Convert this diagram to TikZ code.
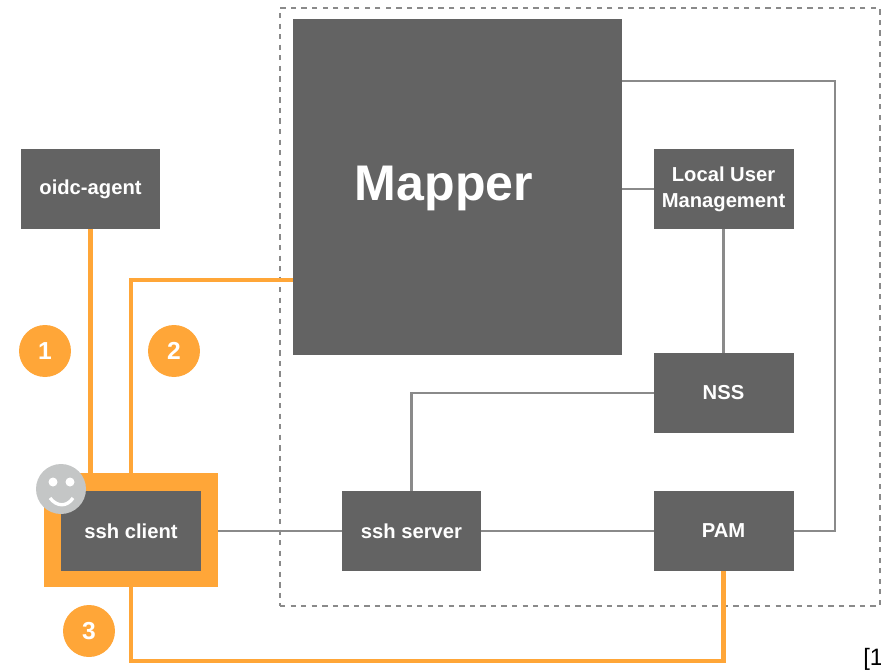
\documentclass[tikz,border=0pt]{standalone}
\usepackage{fontspec}
\setmainfont{Liberation Sans}
\usetikzlibrary{positioning}
\definecolor{boxgray}{HTML}{636363}
\definecolor{linegray}{HTML}{8A8A8A}
\definecolor{signal}{HTML}{FFA638}
\definecolor{facegray}{HTML}{C4C6C6}
\tikzset{
  block/.style={fill=boxgray,text=white,font=\bfseries\fontsize{11.5}{15}\selectfont,align=center,inner sep=0pt,outer sep=0pt,minimum width=2.8cm,minimum height=1.6cm},
  link/.style={draw=linegray,line width=1.25pt},
  flow/.style={draw=signal,line width=2.3pt},
  badge/.style={circle,fill=signal,text=white,font=\bfseries\fontsize{14}{18}\selectfont,inner sep=0pt,minimum size=1.04cm}
}
\begin{document}
\begin{tikzpicture}[x=0.02cm,y=-0.02cm]
  \useasboundingbox (0,0) rectangle (881,669);
  \node (trust) at (580,307)[draw=linegray,dashed,line width=0.9pt,inner sep=0pt,minimum width=12cm,minimum height=11.96cm]{};

  \node[block] (agent) at (90.5,189){oidc-agent};
  \node[block,minimum width=6.58cm,minimum height=6.72cm] (mapper) at (457.5,187){};
  \node[text=white,inner sep=0pt,font=\bfseries\fontsize{28.5}{32}\selectfont] (mappertext) at (444,188){Mapper};
  \node[block] (local) at (723.5,189){Local User\\Management};
  \node[block] (nss) at (723.5,393){NSS};
  \node[block] (server) at (411.5,531){ssh server};
  \node[block] (pam) at (723.5,531){PAM};
  \node[fill=signal,inner sep=0pt,outer sep=0pt,minimum width=3.48cm,minimum height=2.28cm] (frame) at (131,530){};
  \node[block] (client) at (131,531){ssh client};

  \coordinate (mapperout) at (622,81);
  \coordinate (busright) at (835,81);
  \coordinate (mapperin) at (293,280);
  \coordinate (busbottom) at (131,661);

  \draw[link] (mapperout)--(busright)|-(pam.east);
  \draw[link] (local.west)--(local.west -| mapper.east);
  \draw[link] (local.south)--(nss.north);
  \draw[link] (nss.west)-|(server.north);
  \draw[link] (frame.east |- client.east)--(server.west);
  \draw[link] (server.east)--(pam.west);

  \draw[flow] (agent.south)--(agent.south |- frame.north);
  \draw[flow] (frame.north)|-(mapperin);
  \draw[flow] (frame.south)--(busbottom)-|(pam.south);

  \node[badge] (one) at (45,351){1};
  \node[badge] (two) at (174,351){2};
  \node[badge] (three) at (89,631){3};

  % smiley
  \node[circle,fill=facegray,inner sep=0pt,minimum size=1cm] (face) at (61,489){};
  \fill[white] (53,482) circle (4.5);
  \fill[white] (70,482) circle (4.5);
  \draw[white,line width=1.9pt] (50,498) .. controls (57,507) and (67,507) .. (73,498);

  \node[anchor=base west,inner sep=0pt,font=\fontsize{13.5}{16}\selectfont] (cite) at (863,665){[1};
\end{tikzpicture}
\end{document}
